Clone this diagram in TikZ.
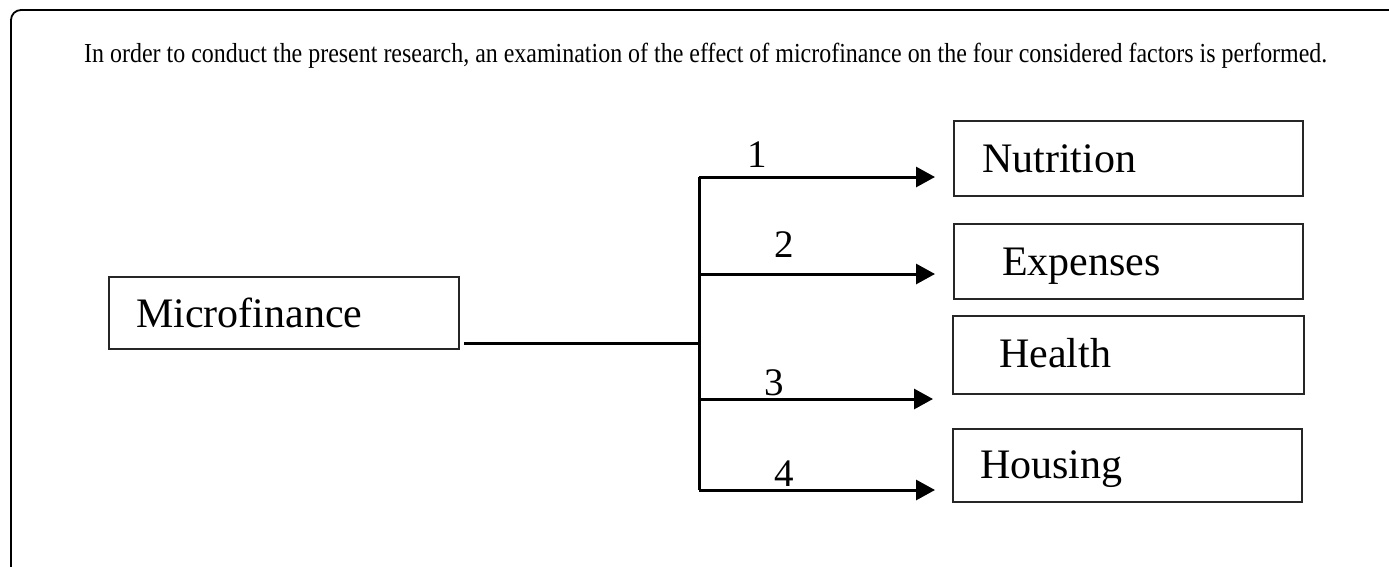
\documentclass[tikz,border=0pt]{standalone}
\usepackage{fontspec}
\setmainfont{Liberation Serif}
\usetikzlibrary{arrows.meta}
\begin{document}
\begin{tikzpicture}[x=1pt,y=-1pt,
  box/.style={draw=black!85, line width=2pt, inner sep=0pt, anchor=north west},
  lbl/.style={anchor=base west, inner sep=0pt, font=\fontsize{42}{42}\selectfont},
  num/.style={anchor=base, inner sep=0pt, font=\fontsize{39}{39}\selectfont},
  arr/.style={line width=3pt, -{Triangle[length=19pt,width=20pt]}},
  ln/.style={line width=3pt}]
\useasboundingbox (0,0) rectangle (1389,566);
% frame
\draw[line width=1.8pt, rounded corners=10pt] (11,580) -- (11,10) -- (1400,10);
% header
\node[anchor=base west, inner sep=0pt, font=\fontsize{27.5}{28}\selectfont] (hdr) at (84,62)
  {\resizebox{1243pt}{\height}{In order to conduct the present research, an examination of the effect of microfinance on the four considered factors is performed.}};
% boxes
\node[box, minimum width=350pt, minimum height=72pt] (mf) at (108,276) {};
\node[box, minimum width=349pt, minimum height=75pt] (nut) at (953,120) {};
\node[box, minimum width=349pt, minimum height=75pt] (exp) at (953,223) {};
\node[box, minimum width=351pt, minimum height=78pt] (hea) at (952,315) {};
\node[box, minimum width=349pt, minimum height=73pt] (hou) at (952,428) {};
% box texts
\node[lbl] (mft) at (136,327) {Microfinance};
\node[lbl] (nutt) at (982,172) {Nutrition};
\node[lbl] (expt) at (1002,275) {Expenses};
\node[lbl] (heat) at (999,367) {Health};
\node[lbl] (hout) at (980,478) {Housing};
% connectors
\coordinate (m0) at (mf.east |- 0,343);
\coordinate (jm) at (699,343);
\coordinate (j1) at (699,177);
\coordinate (j2) at (699,274);
\coordinate (j3) at (699,399);
\coordinate (j4) at (699,490);
\coordinate (t1) at (935,177);
\coordinate (t2) at (935,274);
\coordinate (t3) at (933,399);
\coordinate (t4) at (935,490);
\draw[ln] ([xshift=4pt]m0) -- (jm);
\draw[ln] (j1) -- (j4);
\draw[arr] (j1) -- (t1);
\draw[arr] (j2) -- (t2);
\draw[arr] (j3) -- (t3);
\draw[arr] (j4) -- (t4);
% numbers
\node[num] (n1) at (757,167) {1};
\node[num] (n2) at (784,257) {2};
\node[num] (n3) at (774,395) {3};
\node[num] (n4) at (784,486) {4};
\end{tikzpicture}
\end{document}
